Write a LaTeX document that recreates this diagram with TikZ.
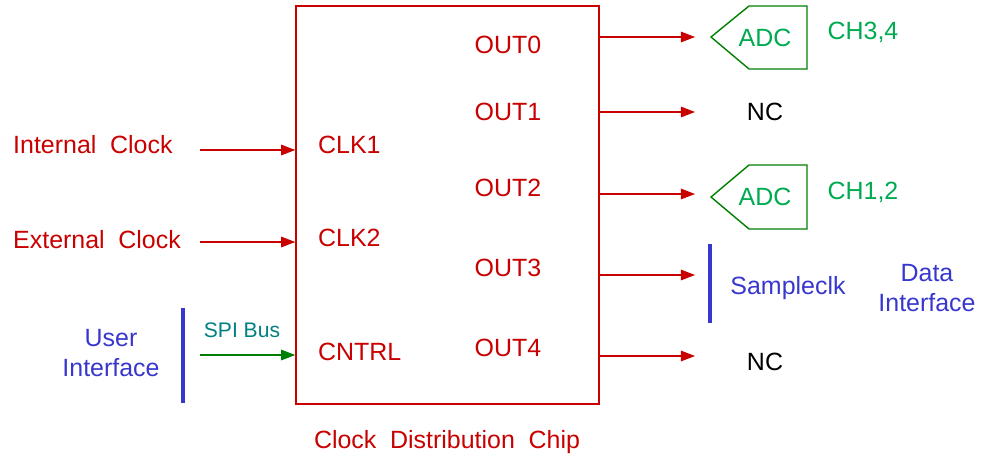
\documentclass[tikz,border=0pt]{standalone}
\usepackage{fontspec}
\setmainfont{Liberation Sans}
\usetikzlibrary{arrows.meta}
\definecolor{chipred}{RGB}{200,0,0}
\definecolor{adcgreen}{RGB}{0,128,0}
\definecolor{chgreen}{RGB}{0,170,80}
\definecolor{ifblue}{RGB}{55,55,205}
\definecolor{spiteal}{RGB}{0,128,128}
\newcommand\widesp{\spaceskip=0.55em\relax}

\begin{document}
\begin{tikzpicture}
[x = 0.02cm, y = -0.02cm,
 chip/.style = {draw = chipred, line width = 0.9pt, minimum width = 6.06cm, minimum height = 7.96cm, inner sep = 0pt},
 sig/.style = {draw = chipred, line width = 0.6pt, -{Triangle[length=8pt,width=6pt]}},
 spi/.style = {draw = adcgreen, line width = 0.6pt, -{Triangle[length=8pt,width=6pt]}},
 adc/.style = {draw = adcgreen, line width = 0.8pt},
 bar/.style = {draw = ifblue, line width = 2pt},
 red/.style = {text = chipred, font = \fontsize{14.2}{17}\selectfont\widesp},
 grn/.style = {text = chgreen, font = \fontsize{14.2}{17}\selectfont},
 blu/.style = {text = ifblue, font = \fontsize{14.2}{17.5}\selectfont, align = center},
 blk/.style = {text = black, font = \fontsize{14.2}{17}\selectfont}
 ]
\useasboundingbox (0,0) rectangle (982,463);
% chip
\node [chip] (chip) at (447.5,205) {};
\node [red] (out0) at (508,45) {OUT0};
\node [red] (out1) at (508,112) {OUT1};
\node [red] (out2) at (508,188) {OUT2};
\node [red] (out3) at (508,268) {OUT3};
\node [red] (out4) at (508,348) {OUT4};
\node [red, anchor = west] (clk1) at (312,145) {CLK1};
\node [red, anchor = west] (clk2) at (312,238) {CLK2};
\node [red, anchor = west] (cntrl) at (312,352) {CNTRL};
\node [red] (title) at (447,442) {Clock Distribution Chip};
% inputs
\node [red, anchor = west] (intclk) at (7,145) {Internal Clock};
\node [red, anchor = west] (extclk) at (7,240) {External Clock};
\node [blu] (user) at (111,353) {User\\Interface};
\coordinate (i1) at (200,150);
\coordinate (i2) at (200,242);
\coordinate (i3) at (200,355);
\draw [sig] (i1) -- (i1 -| chip.west);
\draw [sig] (i2) -- (i2 -| chip.west);
\draw [spi] (i3) -- (i3 -| chip.west);
\node [text = spiteal, font = \fontsize{12}{14}\selectfont] (spibus) at (242,330) {SPI Bus};
\draw [bar] (183,308) -- (183,403);
% outputs
\coordinate (o0) at (695,37);
\coordinate (o1) at (695,112);
\coordinate (o2) at (695,194);
\coordinate (o3) at (695,275);
\coordinate (o4) at (695,356);
\foreach \o in {o0,o1,o2,o3,o4}
  \draw [sig] (chip.east |- \o) -- (\o);
\draw [adc] (711,37) -- (749,6) -- (807,6) -- (807,69) -- (749,69) -- cycle;
\draw [adc] (711,197) -- (749,165) -- (807,165) -- (807,229) -- (749,229) -- cycle;
\node [grn] (adc0) at (765,38) {ADC};
\node [grn] (adc2) at (765,197) {ADC};
\node [grn] (ch34) at (863,32) {CH3,4};
\node [grn] (ch12) at (863,192) {CH1,2};
\node [blk] (nc1) at (765,112) {NC};
\node [blk] (nc4) at (765,362) {NC};
\draw [bar] (710,244) -- (710,323);
\node [blu] (sclk) at (788,288) {Sampleclk};
\node [blu] (data) at (927,288) {Data\\Interface};
\end{tikzpicture}
\end{document}
